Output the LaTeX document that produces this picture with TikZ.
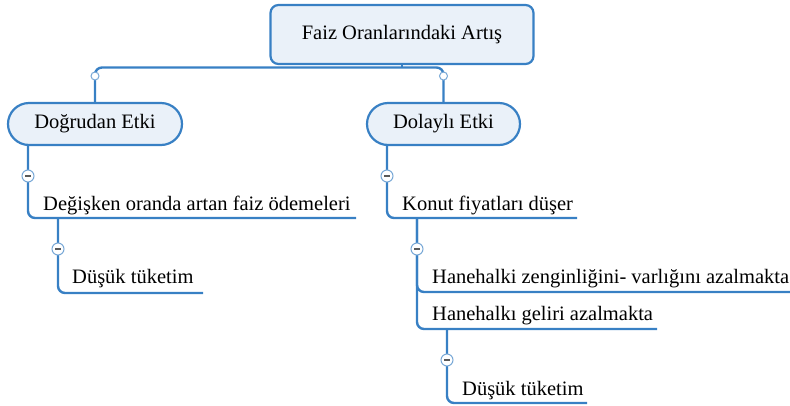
\documentclass[tikz,border=0pt]{standalone}
\usepackage{fontspec}
\setmainfont{Liberation Serif}
\definecolor{mm_blue}{RGB}{56,128,196}
\definecolor{mm_fill}{RGB}{234,241,249}
\definecolor{mm_dot}{RGB}{120,168,214}
\begin{document}
\begin{tikzpicture}[x=1pt,y=-1pt,
    every node/.style={font=\fontsize{20.5}{24}\selectfont},
    root_node/.style={draw=mm_blue,fill=mm_fill,line width=2.2pt,rounded corners=8pt,minimum width=263pt,minimum height=59pt},
    effect_node/.style={draw=mm_blue,fill=mm_fill,line width=2.2pt,rounded corners=21pt,minimum height=42pt},
    item_node/.style={anchor=base west,inner sep=0pt},
    link/.style={draw=mm_blue,line width=2.4pt,rounded corners=7pt},
    open_dot/.style={circle,draw=mm_dot,fill=white,line width=1pt,minimum size=8pt,inner sep=0pt},
    minus_dot/.style={circle,draw=mm_dot,fill=white,line width=1pt,minimum size=12pt,inner sep=0pt,
        path picture={\draw[black!65,line width=1.3pt] ([xshift=-3pt]path picture bounding box.center) -- ([xshift=3pt]path picture bounding box.center);}}]
    \useasboundingbox (0,0) rectangle (790,405);
    % main box and the two effects
    \node[root_node] (root) at (402,34.5) {Faiz Oranlarındaki Artış};
    \node[effect_node,minimum width=174pt] (direct) at (95,124) {Doğrudan Etki};
    \node[effect_node,minimum width=153pt] (indirect) at (443.5,124) {Dolaylı Etki};
    \coordinate (fork) at (402,67.5);
    \draw[link] (root.south) -- (fork);
    \draw[link] (direct.north) -- (direct.north |- fork) -- (indirect.north |- fork) -- (indirect.north);
    \node[open_dot] (o1) at (95,76) {};
    \node[open_dot] (o2) at (443.5,76) {};
    % items
    \node[item_node] (1) at (43,210) {Değişken oranda artan faiz ödemeleri};
    \node[item_node] (2) at (72,283) {Düşük tüketim};
    \node[item_node] (3) at (402,210) {Konut fiyatları düşer};
    \node[item_node] (4) at (432,283) {Hanehalki zenginliğini- varlığını azalmakta};
    \node[item_node] (5) at (432,320) {Hanehalkı geliri azalmakta};
    \node[item_node] (6) at (462,395) {Düşük tüketim};
    % underlines and branches
    \coordinate (s1) at (28,145);   \coordinate (u1) at (356,218);
    \coordinate (s2) at (58,218);   \coordinate (u2) at (203,293);
    \coordinate (s3) at (387,145);  \coordinate (u3) at (577,218);
    \coordinate (s4) at (417,218);  \coordinate (u4) at (790,292);
    \coordinate (u5) at (657,329);
    \coordinate (s6) at (447,329);  \coordinate (u6) at (587,403);
    \draw[link] (s1) |- (u1);
    \draw[link] (s2) |- (u2);
    \draw[link] (s3) |- (u3);
    \draw[link] (s4) |- (u4);
    \draw[link] (s4) |- (u5);
    \draw[link] (s6) |- (u6);
    \node[minus_dot] (m1) at (28,176) {};
    \node[minus_dot] (m2) at (58,249) {};
    \node[minus_dot] (m3) at (387,176) {};
    \node[minus_dot] (m4) at (417,249) {};
    \node[minus_dot] (m6) at (447,360) {};
\end{tikzpicture}
\end{document}
